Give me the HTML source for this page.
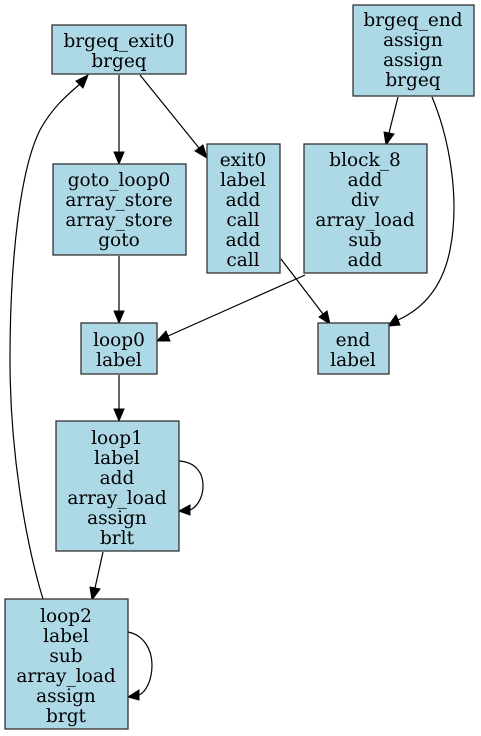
<!DOCTYPE html>
<html><head><meta charset="utf-8"><style>
html,body{margin:0;padding:0;background:#fff;}
svg{display:block;}
text{font-family:"DejaVu Serif","Liberation Serif",serif;font-size:18.5px;fill:#000;}
rect{fill:#add8e6;stroke:#333;stroke-width:1.3;}
path.e{fill:none;stroke:#000;stroke-width:1.2;}
polygon{fill:#000;stroke:#000;}
</style></head><body>
<svg width="481" height="736" viewBox="0 0 481 736" xmlns="http://www.w3.org/2000/svg">
<path class="e" d="M119,75 L119,152"/><polygon points="114,152 124,152 119,164"/>
<path class="e" d="M140,75 L199,148"/><polygon points="195,151 203,145 207,158"/>
<path class="e" d="M398,97 L389,133"/><polygon points="384,132 394,134 386,145"/>
<path class="e" d="M432,97 C450,140 460,200 450,250 C442,290 420,310 398,320"/><polygon points="396,315 400,325 388,326"/>
<path class="e" d="M119,256 L119,311"/><polygon points="114,311 124,311 119,323"/>
<path class="e" d="M281,259 L323,314"/><polygon points="319,317 327,311 330,324"/>
<path class="e" d="M305,275 L168,336"/><polygon points="166,331 170,341 157,341"/>
<path class="e" d="M119,375 L119,409"/><polygon points="114,409 124,409 119,421"/>
<path class="e" d="M179,461 C195,462 203,472 203,486 C203,500 195,508 190,510"/><polygon points="190,505 190,515 179,511"/>
<path class="e" d="M103,552 L95,588"/><polygon points="90,587 100,589 92,600"/>
<path class="e" d="M128,632 C144,635 152,650 152,665 C152,680 146,692 139,695"/><polygon points="139,690 139,700 128,697"/>
<path class="e" d="M43,599 C25,540 10,450 10,360 C10,260 20,170 40,130 C52,108 66,96 80,84"/><polygon points="76,81 83,88 88,75"/>

<rect x="52" y="25" width="134" height="49"/>
<text x="119" y="47" text-anchor="middle">brgeq_exit0</text>
<text x="119" y="67" text-anchor="middle">brgeq</text>

<rect x="353" y="5" width="121" height="91"/>
<text x="413" y="26" text-anchor="middle">brgeq_end</text>
<text x="413" y="46" text-anchor="middle">assign</text>
<text x="413" y="66" text-anchor="middle">assign</text>
<text x="413" y="86" text-anchor="middle">brgeq</text>

<rect x="53" y="164" width="133" height="91"/>
<text x="119" y="186" text-anchor="middle">goto_loop0</text>
<text x="119" y="206" text-anchor="middle">array_store</text>
<text x="119" y="226" text-anchor="middle">array_store</text>
<text x="119" y="246" text-anchor="middle">goto</text>

<rect x="207" y="144" width="73" height="129"/>
<text x="243" y="166" text-anchor="middle">exit0</text>
<text x="243" y="186" text-anchor="middle">label</text>
<text x="243" y="206" text-anchor="middle">add</text>
<text x="243" y="226" text-anchor="middle">call</text>
<text x="243" y="246" text-anchor="middle">add</text>
<text x="243" y="266" text-anchor="middle">call</text>

<rect x="304" y="144" width="123" height="129"/>
<text x="365" y="166" text-anchor="middle">block_8</text>
<text x="365" y="186" text-anchor="middle">add</text>
<text x="365" y="206" text-anchor="middle">div</text>
<text x="365" y="226" text-anchor="middle">array_load</text>
<text x="365" y="246" text-anchor="middle">sub</text>
<text x="365" y="266" text-anchor="middle">add</text>

<rect x="81" y="323" width="76" height="51"/>
<text x="119" y="346" text-anchor="middle">loop0</text>
<text x="119" y="366" text-anchor="middle">label</text>

<rect x="318" y="323" width="71" height="51"/>
<text x="353" y="346" text-anchor="middle">end</text>
<text x="353" y="366" text-anchor="middle">label</text>

<rect x="56" y="421" width="123" height="130"/>
<text x="117" y="444" text-anchor="middle">loop1</text>
<text x="117" y="464" text-anchor="middle">label</text>
<text x="117" y="484" text-anchor="middle">add</text>
<text x="117" y="504" text-anchor="middle">array_load</text>
<text x="117" y="524" text-anchor="middle">assign</text>
<text x="117" y="544" text-anchor="middle">brlt</text>

<rect x="5" y="599" width="123" height="130"/>
<text x="66" y="622" text-anchor="middle">loop2</text>
<text x="66" y="642" text-anchor="middle">label</text>
<text x="66" y="662" text-anchor="middle">sub</text>
<text x="66" y="682" text-anchor="middle">array_load</text>
<text x="66" y="702" text-anchor="middle">assign</text>
<text x="66" y="722" text-anchor="middle">brgt</text>
</svg>
</body></html>
